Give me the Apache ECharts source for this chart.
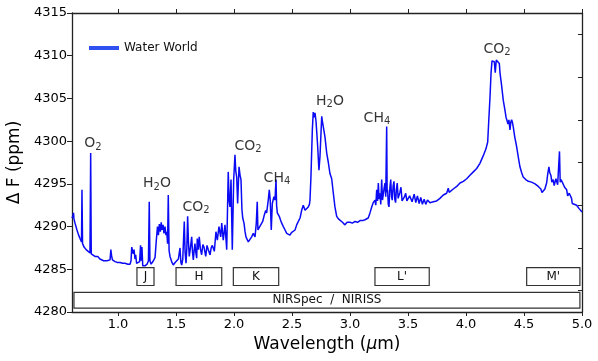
<!DOCTYPE html>
<html>
<head>
<meta charset="utf-8">
<script src="https://cdn.jsdelivr.net/npm/echarts@6/dist/echarts.min.js"></script>
<style>
  html, body { margin: 0; padding: 0; background: #fff; }
  #chart { width: 598px; height: 361px; }
</style>
</head>
<body>
<div id="chart"></div>
<script>
// wavelength (um) / delta F (ppm)
var spectrum = [
  [0.603,4291.0],[0.612,4291.3],[0.616,4291.6],[0.620,4290.9],[0.629,4290.4],[0.646,4289.6],[0.660,4289.0],
  [0.672,4288.6],[0.685,4288.2],[0.689,4294.3],[0.694,4288.0],[0.707,4287.6],[0.725,4287.3],[0.741,4287.1],
  [0.758,4286.9],[0.764,4298.6],[0.769,4286.8],[0.785,4286.7],[0.801,4286.5],[0.815,4286.3],[0.825,4286.5],
  [0.844,4286.2],[0.860,4286.3],[0.875,4286.0],[0.888,4286.2],[0.905,4286.0],[0.920,4285.9],[0.931,4286.1],
  [0.938,4287.3],[0.944,4286.6],[0.952,4286.1],[0.974,4285.9],[0.995,4285.8],[1.017,4285.8],[1.040,4285.7],
  [1.060,4285.7],[1.085,4285.6],[1.103,4285.6],[1.112,4286.0],[1.118,4287.6],[1.125,4287.8],[1.131,4286.8],
  [1.138,4287.3],[1.146,4286.2],[1.152,4286.7],[1.160,4285.7],[1.172,4285.5],[1.186,4285.9],[1.194,4287.8],
  [1.200,4286.0],[1.206,4287.6],[1.213,4285.4],[1.232,4285.4],[1.250,4285.6],[1.262,4286.0],[1.269,4292.9],
  [1.275,4286.0],[1.285,4285.6],[1.293,4285.5],[1.305,4286.0],[1.319,4286.4],[1.330,4288.4],[1.340,4290.0],
  [1.348,4289.0],[1.356,4290.3],[1.365,4289.4],[1.372,4290.5],[1.380,4289.6],[1.388,4290.2],[1.396,4289.2],
  [1.405,4290.0],[1.413,4289.0],[1.420,4289.4],[1.427,4288.0],[1.433,4293.7],[1.440,4287.2],[1.448,4286.5],
  [1.462,4285.9],[1.476,4285.5],[1.492,4285.8],[1.506,4285.7],[1.520,4286.2],[1.534,4287.5],[1.542,4285.8],
  [1.549,4285.5],[1.558,4286.2],[1.571,4290.6],[1.578,4287.0],[1.586,4285.7],[1.593,4287.5],[1.600,4291.2],
  [1.607,4288.2],[1.614,4286.5],[1.624,4287.5],[1.635,4288.8],[1.642,4287.0],[1.649,4286.1],[1.656,4287.2],
  [1.663,4288.0],[1.670,4287.0],[1.678,4286.3],[1.683,4288.6],[1.692,4287.3],[1.700,4288.8],[1.710,4287.4],
  [1.721,4286.7],[1.731,4287.9],[1.741,4287.6],[1.756,4286.5],[1.767,4287.8],[1.778,4287.3],[1.793,4286.7],
  [1.803,4287.5],[1.813,4287.8],[1.830,4287.1],[1.844,4289.4],[1.856,4288.4],[1.870,4290.0],[1.885,4288.8],
  [1.894,4290.4],[1.907,4288.4],[1.922,4290.2],[1.937,4287.3],[1.950,4296.4],[1.958,4293.0],[1.965,4292.3],
  [1.974,4295.5],[1.985,4287.3],[1.997,4295.5],[2.008,4298.4],[2.015,4296.5],[2.023,4295.8],[2.031,4292.7],
  [2.043,4297.0],[2.052,4296.0],[2.060,4295.5],[2.068,4292.0],[2.075,4291.0],[2.086,4290.4],[2.095,4289.4],
  [2.103,4288.8],[2.123,4288.2],[2.138,4288.0],[2.152,4288.8],[2.166,4289.2],[2.181,4288.8],[2.192,4290.4],
  [2.200,4292.9],[2.206,4289.6],[2.218,4289.9],[2.230,4290.0],[2.247,4290.6],[2.258,4291.2],[2.273,4291.9],
  [2.281,4291.6],[2.295,4293.1],[2.304,4294.3],[2.312,4293.1],[2.321,4289.6],[2.330,4292.7],[2.344,4293.5],
  [2.353,4293.1],[2.362,4295.5],[2.367,4292.5],[2.373,4291.6],[2.390,4291.2],[2.400,4290.8],[2.411,4290.4],
  [2.425,4290.0],[2.440,4289.6],[2.454,4289.2],[2.468,4289.4],[2.482,4289.0],[2.495,4289.3],[2.506,4289.4],
  [2.526,4289.6],[2.540,4290.2],[2.554,4290.0],[2.569,4291.0],[2.583,4291.9],[2.597,4292.5],[2.612,4291.9],
  [2.626,4292.1],[2.640,4292.3],[2.650,4292.6],[2.655,4293.1],[2.663,4295.8],[2.675,4301.3],[2.683,4303.4],
  [2.690,4302.8],[2.698,4303.3],[2.707,4302.3],[2.721,4299.4],[2.732,4296.6],[2.741,4298.2],[2.756,4302.9],
  [2.762,4302.3],[2.769,4302.5],[2.784,4300.5],[2.799,4298.6],[2.813,4297.5],[2.827,4296.2],[2.842,4295.6],
  [2.856,4293.9],[2.870,4292.3],[2.885,4291.2],[2.900,4290.9],[2.913,4290.7],[2.935,4290.5],[2.956,4290.2],
  [2.975,4290.5],[3.000,4290.5],[3.020,4290.4],[3.043,4290.6],[3.065,4290.5],[3.086,4290.7],[3.110,4290.7],
  [3.129,4290.8],[3.145,4290.9],[3.157,4291.0],[3.172,4291.6],[3.187,4292.3],[3.200,4292.8],[3.215,4293.1],
  [3.222,4292.5],[3.230,4294.3],[3.237,4293.0],[3.244,4295.1],[3.251,4293.2],[3.258,4293.9],[3.265,4292.6],
  [3.273,4295.5],[3.280,4293.1],[3.286,4293.1],[3.294,4294.5],[3.301,4295.1],[3.308,4293.5],[3.316,4301.7],
  [3.320,4294.0],[3.324,4294.3],[3.330,4292.6],[3.336,4292.3],[3.344,4294.6],[3.351,4295.5],[3.358,4293.5],
  [3.364,4293.1],[3.372,4294.8],[3.379,4295.3],[3.386,4293.2],[3.393,4292.8],[3.400,4294.4],[3.407,4295.1],
  [3.415,4293.3],[3.422,4293.1],[3.430,4294.0],[3.439,4294.6],[3.449,4293.0],[3.459,4292.8],[3.470,4293.5],
  [3.480,4293.9],[3.490,4293.0],[3.502,4293.1],[3.514,4293.6],[3.526,4293.5],[3.535,4292.9],[3.545,4293.1],
  [3.553,4293.8],[3.560,4293.7],[3.567,4292.8],[3.574,4292.8],[3.581,4293.6],[3.588,4293.5],[3.596,4292.7],
  [3.603,4292.8],[3.610,4293.4],[3.617,4293.3],[3.624,4292.6],[3.631,4292.6],[3.639,4293.2],[3.646,4293.2],
  [3.653,4292.6],[3.661,4292.6],[3.668,4293.1],[3.674,4293.1],[3.689,4292.8],[3.718,4292.9],[3.747,4293.0],
  [3.775,4293.3],[3.804,4293.7],[3.833,4293.9],[3.847,4294.5],[3.855,4294.0],[3.862,4294.0],[3.890,4294.4],
  [3.920,4294.7],[3.948,4295.1],[3.977,4295.3],[4.006,4295.6],[4.034,4296.0],[4.063,4296.4],[4.092,4296.8],
  [4.120,4297.4],[4.149,4298.3],[4.172,4299.1],[4.187,4299.9],[4.195,4302.1],[4.207,4305.2],[4.216,4308.0],
  [4.224,4309.4],[4.235,4309.5],[4.244,4309.3],[4.252,4308.0],[4.261,4309.5],[4.276,4309.4],[4.287,4309.1],
  [4.293,4308.0],[4.307,4306.5],[4.321,4304.8],[4.336,4303.6],[4.345,4302.8],[4.353,4303.0],[4.362,4302.0],
  [4.370,4302.5],[4.379,4301.3],[4.386,4302.2],[4.393,4302.5],[4.400,4302.2],[4.407,4301.7],[4.420,4300.5],
  [4.436,4299.4],[4.450,4298.2],[4.465,4297.0],[4.480,4296.3],[4.493,4295.8],[4.515,4295.5],[4.537,4295.3],
  [4.565,4295.2],[4.595,4295.0],[4.610,4294.9],[4.623,4294.7],[4.635,4294.9],[4.645,4294.4],[4.655,4294.0],
  [4.666,4293.8],[4.680,4294.4],[4.695,4295.1],[4.705,4296.2],[4.715,4297.0],[4.722,4296.3],[4.732,4296.0],
  [4.740,4295.2],[4.752,4295.5],[4.760,4294.8],[4.767,4294.9],[4.775,4295.6],[4.781,4295.5],[4.790,4294.9],
  [4.797,4295.1],[4.801,4295.1],[4.806,4298.8],[4.812,4295.2],[4.819,4295.5],[4.830,4295.2],[4.838,4295.2],
  [4.850,4294.6],[4.868,4294.3],[4.876,4293.6],[4.881,4293.5],[4.890,4293.9],[4.897,4293.8],[4.905,4294.0],
  [4.910,4293.3],[4.916,4292.7],[4.930,4292.6],[4.954,4292.5],[4.975,4292.1],[5.000,4291.7]
];

// molecule labels: [wavelength, deltaF, text]
var molecules = [
  [0.783, 4299.7, 'O{s|2}'],
  [1.336, 4295.0, 'H{s|2}O'],
  [1.672, 4292.3, 'CO{s|2}'],
  [2.120, 4299.4, 'CO{s|2}'],
  [2.370, 4295.7, 'CH{s|4}'],
  [2.827, 4304.7, 'H{s|2}O'],
  [3.232, 4302.7, 'CH{s|4}'],
  [4.267, 4310.8, 'CO{s|2}']
];

// photometric bands
var bandNames = ['J', 'H', 'K', "L'", "M'", 'NIRSpec  /  NIRISS'];
var bandStart = [1.163, 1.500, 1.994, 3.215, 4.523, 0.620];
var bandEnd   = [1.310, 1.894, 2.385, 3.683, 4.982, 4.982];
var bandTop   = [4285.2, 4285.2, 4285.2, 4285.2, 4285.2, 4282.3];
var bandBot   = [4283.1, 4283.1, 4283.1, 4283.1, 4283.1, 4280.45];

var xTicks = [1.0, 1.5, 2.0, 2.5, 3.0, 3.5, 4.0, 4.5, 5.0];
var yRightTicks = [4282.5, 4287.5, 4292.5, 4297.5, 4302.5, 4307.5, 4312.5];

var FONT = 'DejaVu Sans';
var AXIS_COLOR = '#222';

var chart = echarts.init(document.getElementById('chart'));

var bandAreas = bandNames.map(function (name, i) {
  return [
    { name: name, coord: [bandStart[i], bandTop[i]] },
    { coord: [bandEnd[i], bandBot[i]] }
  ];
});

var option = {
  animation: false,
  backgroundColor: '#fff',
  grid: { left: 72, right: 16, top: 13, bottom: 49, outerBoundsMode: 'none', containLabel: false },
  legend: {
    data: ['Water World'],
    left: 89, top: 42,
    padding: 0,
    itemWidth: 30, itemHeight: 4,
    icon: 'rect',
    itemStyle: { color: '#3050f0' },
    textStyle: { fontFamily: FONT, fontSize: 12, color: '#111' }
  },
  xAxis: [{
    type: 'value',
    min: 0.603, max: 5.0,
    name: 'Wavelength ({i|\u03bc}m)',
    nameLocation: 'middle',
    nameGap: 24,
    nameTextStyle: {
      fontFamily: FONT, fontSize: 17, color: '#000',
      rich: { i: { fontFamily: FONT, fontSize: 17, fontStyle: 'italic', color: '#000' } }
    },
    axisLine: { onZero: false, lineStyle: { color: AXIS_COLOR, width: 1.3 } },
    axisTick: { customValues: xTicks, length: 4, lineStyle: { color: AXIS_COLOR } },
    axisLabel: {
      customValues: xTicks, fontFamily: FONT, fontSize: 13, color: '#000', margin: 6,
      formatter: function (v) { return v.toFixed(1); }
    },
    splitLine: { show: false }
  }, {
    type: 'value',
    position: 'top',
    min: 0.603, max: 5.0,
    axisLine: { onZero: false, lineStyle: { color: AXIS_COLOR, width: 1.3 } },
    axisTick: { customValues: xTicks, length: 4, lineStyle: { color: AXIS_COLOR } },
    axisLabel: { show: false },
    splitLine: { show: false }
  }],
  yAxis: [{
    type: 'value',
    min: 4280, max: 4315, interval: 5,
    name: '\u0394 F (ppm)',
    nameLocation: 'middle',
    nameGap: 41,
    nameTextStyle: { fontFamily: FONT, fontSize: 17, color: '#000' },
    axisLine: { show: true, onZero: false, lineStyle: { color: AXIS_COLOR, width: 1.3 } },
    axisTick: { show: true, length: 5, lineStyle: { color: AXIS_COLOR } },
    axisLabel: {
      fontFamily: FONT, fontSize: 13, color: '#000', margin: 5,
      formatter: function (v) { return String(v); }
    },
    splitLine: { show: false }
  }, {
    type: 'value',
    position: 'right',
    min: 4280, max: 4315,
    axisLine: { show: true, onZero: false, lineStyle: { color: AXIS_COLOR, width: 1.3 } },
    axisTick: { show: true, inside: true, customValues: yRightTicks, length: 4, lineStyle: { color: AXIS_COLOR } },
    axisLabel: { show: false },
    splitLine: { show: false }
  }],
  series: [
    {
      name: 'Water World',
      type: 'line',
      data: spectrum,
      symbol: 'none',
      z: 3,
      lineStyle: { color: '#0a0af5', width: 1.5 },
      itemStyle: { color: '#0a0af5' },
      markArea: {
        silent: true,
        itemStyle: { color: '#fff', borderColor: '#333', borderWidth: 1.2 },
        label: {
          show: true, position: 'inside',
          fontFamily: FONT, fontSize: 12, color: '#111'
        },
        data: bandAreas
      }
    },
    {
      name: 'molecules',
      type: 'scatter',
      data: molecules,
      symbolSize: 0,
      silent: true,
      z: 4,
      label: {
        show: true,
        position: 'inside',
        fontFamily: FONT, fontSize: 14, color: '#000',
        formatter: function (p) { return p.data[2]; },
        rich: {
          s: { fontFamily: FONT, fontSize: 10, color: '#000', padding: [7, 0, 0, 0] }
        }
      }
    }
  ]
};

chart.setOption(option);
</script>
</body>
</html>
